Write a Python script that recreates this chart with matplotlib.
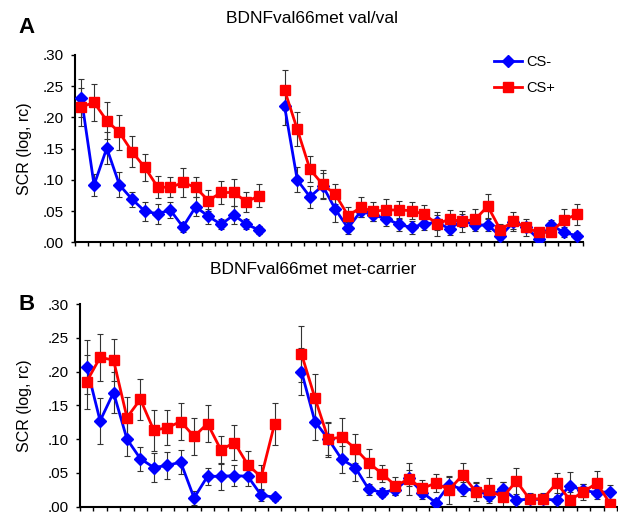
import numpy as np
import matplotlib
matplotlib.use("Agg")
import matplotlib.pyplot as plt
from matplotlib.ticker import FuncFormatter

plt.rcParams["font.family"] = ["Liberation Sans", "DejaVu Sans"]

# --- data: two blocks of trials, gap of one category between them ---------
N_CAT = 40
LEFT_IDX = list(range(0, 15))
RIGHT_IDX = list(range(16, 40))

# panel A  (val/val)
a_cs_minus_l = [0.231, 0.092, 0.151, 0.092, 0.069, 0.050, 0.046, 0.052, 0.025, 0.057,
                0.042, 0.029, 0.044, 0.029, 0.020]
a_cs_minus_l_err = [0.030, 0.018, 0.025, 0.020, 0.012, 0.015, 0.016, 0.013, 0.008, 0.015,
                    0.012, 0.008, 0.014, 0.008, 0.006]
a_cs_plus_l = [0.217, 0.224, 0.195, 0.176, 0.145, 0.120, 0.089, 0.088, 0.096, 0.088,
               0.067, 0.080, 0.080, 0.065, 0.075]
a_cs_plus_l_err = [0.030, 0.030, 0.029, 0.028, 0.025, 0.022, 0.018, 0.016, 0.023, 0.016,
                   0.017, 0.018, 0.021, 0.016, 0.019]
a_cs_minus_r = [0.218, 0.100, 0.073, 0.091, 0.053, 0.023, 0.050, 0.044, 0.038, 0.029,
                0.024, 0.030, 0.032, 0.022, 0.035, 0.028, 0.028, 0.010, 0.032, 0.025,
                0.005, 0.028, 0.016, 0.011]
a_cs_minus_r_err = [0.030, 0.020, 0.018, 0.020, 0.020, 0.010, 0.010, 0.010, 0.012, 0.010,
                    0.010, 0.010, 0.012, 0.010, 0.010, 0.010, 0.010, 0.006, 0.010, 0.008,
                    0.005, 0.008, 0.008, 0.005]
a_cs_plus_r = [0.244, 0.181, 0.117, 0.093, 0.077, 0.043, 0.056, 0.050, 0.052, 0.052,
               0.051, 0.045, 0.030, 0.037, 0.034, 0.037, 0.058, 0.020, 0.034, 0.024,
               0.016, 0.017, 0.036, 0.045]
a_cs_plus_r_err = [0.032, 0.027, 0.021, 0.023, 0.016, 0.014, 0.016, 0.015, 0.018, 0.015,
                   0.013, 0.015, 0.019, 0.015, 0.017, 0.016, 0.019, 0.010, 0.015, 0.014,
                   0.006, 0.006, 0.018, 0.017]

# panel B  (met-carrier)
b_cs_minus_l = [0.207, 0.127, 0.169, 0.100, 0.071, 0.058, 0.061, 0.066, 0.013, 0.045,
                0.045, 0.046, 0.045, 0.017, 0.014]
b_cs_minus_l_err = [0.040, 0.034, 0.030, 0.025, 0.018, 0.021, 0.020, 0.018, 0.010, 0.013,
                    0.020, 0.015, 0.015, 0.008, 0.005]
b_cs_plus_l = [0.185, 0.221, 0.217, 0.132, 0.159, 0.113, 0.117, 0.126, 0.104, 0.123,
               0.084, 0.095, 0.062, 0.044, 0.123]
b_cs_plus_l_err = [0.040, 0.035, 0.031, 0.031, 0.030, 0.030, 0.026, 0.027, 0.027, 0.027,
                   0.021, 0.026, 0.021, 0.018, 0.031]
b_cs_minus_r = [0.200, 0.126, 0.100, 0.070, 0.058, 0.026, 0.021, 0.025, 0.042, 0.021,
                0.006, 0.032, 0.026, 0.025, 0.016, 0.026, 0.010, 0.011, 0.011, 0.010,
                0.031, 0.024, 0.021, 0.022]
b_cs_minus_r_err = [0.035, 0.027, 0.026, 0.020, 0.020, 0.008, 0.007, 0.008, 0.012, 0.010,
                    0.006, 0.012, 0.010, 0.010, 0.008, 0.010, 0.006, 0.006, 0.005, 0.006,
                    0.020, 0.010, 0.010, 0.010]
b_cs_plus_r = [0.226, 0.161, 0.100, 0.103, 0.086, 0.065, 0.049, 0.031, 0.041, 0.027,
               0.035, 0.025, 0.047, 0.022, 0.024, 0.014, 0.038, 0.011, 0.012, 0.035,
               0.010, 0.022, 0.035, 0.004]
b_cs_plus_r_err = [0.041, 0.035, 0.024, 0.028, 0.021, 0.021, 0.013, 0.013, 0.023, 0.012,
                   0.013, 0.021, 0.017, 0.014, 0.018, 0.023, 0.019, 0.010, 0.008, 0.015,
                   0.012, 0.012, 0.018, 0.005]

Y_TICKS = [0.0, 0.05, 0.10, 0.15, 0.20, 0.25, 0.30]
BLUE, RED = "#0000ff", "#ff0000"

fig = plt.figure(figsize=(6.18, 5.13), dpi=100)
axA = fig.add_axes([0.1214, 0.5273, 0.8220, 0.3655])
axB = fig.add_axes([0.1294, 0.0123, 0.8690, 0.3951])


def panel(ax, data, ylab_x):
    for idx, (vm, em, vp, ep) in zip([LEFT_IDX, RIGHT_IDX], data):
        x = np.array(idx)
        ax.errorbar(x, vm, yerr=em, fmt="none", ecolor="#333333", elinewidth=0.8,
                    capsize=2.5, capthick=0.8, zorder=1)
        ax.errorbar(x, vp, yerr=ep, fmt="none", ecolor="#333333", elinewidth=0.8,
                    capsize=2.5, capthick=0.8, zorder=1)
        ax.plot(x, vm, color=BLUE, lw=2, marker="D", ms=6, zorder=3,
                label="CS-" if idx is LEFT_IDX else None)
        ax.plot(x, vp, color=RED, lw=2, marker="s", ms=7, zorder=4,
                label="CS+" if idx is LEFT_IDX else None)
    ax.set_xlim(-0.5, N_CAT - 0.5)
    ax.set_ylim(0, 0.30)
    ax.set_xticks(np.arange(N_CAT + 1) - 0.5)
    ax.set_xticklabels([])
    ax.set_yticks(Y_TICKS)
    ax.yaxis.set_major_formatter(FuncFormatter(lambda v, p: f"{v:.2f}".lstrip("0")))
    ax.tick_params(axis="x", direction="out", length=3, width=1)
    ax.tick_params(axis="y", direction="out", length=3, width=1, labelsize=11, pad=5)
    for s in ["top", "right"]:
        ax.spines[s].set_visible(False)
    for s in ["left", "bottom"]:
        ax.spines[s].set_linewidth(1.5)
    ax.set_ylabel("SCR (log, rc)", fontsize=11.5)
    ax.yaxis.set_label_coords(ylab_x, 0.5)


panel(axA, [(a_cs_minus_l, a_cs_minus_l_err, a_cs_plus_l, a_cs_plus_l_err),
            (a_cs_minus_r, a_cs_minus_r_err, a_cs_plus_r, a_cs_plus_r_err)], -0.085)
panel(axB, [(b_cs_minus_l, b_cs_minus_l_err, b_cs_plus_l, b_cs_plus_l_err),
            (b_cs_minus_r, b_cs_minus_r_err, b_cs_plus_r, b_cs_plus_r_err)], -0.089)

axA.legend(loc="upper left", bbox_to_anchor=(0.814, 1.033), frameon=False, fontsize=10.5,
           handlelength=1.9, handletextpad=0.3, labelspacing=0.85, borderaxespad=0)

fig.text(0.505, 0.963, "BDNFval66met val/val", ha="center", va="center", fontsize=12.5)
fig.text(0.507, 0.474, "BDNFval66met met-carrier", ha="center", va="center", fontsize=12.5)
fig.text(0.03, 0.947, "A", ha="left", va="center", fontsize=16, fontweight="bold")
fig.text(0.03, 0.407, "B", ha="left", va="center", fontsize=16, fontweight="bold")

fig.savefig("out.png", dpi=100, facecolor="white")
